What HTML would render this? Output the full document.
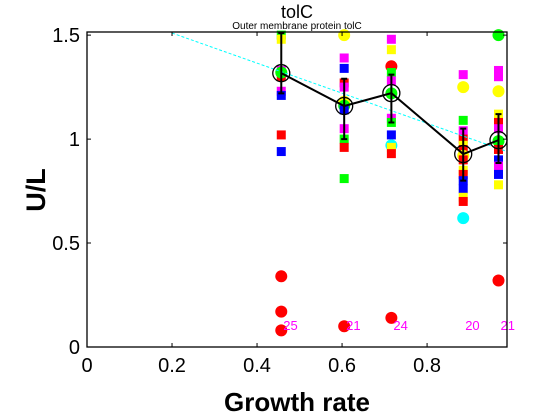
<!DOCTYPE html>
<html><head><meta charset="utf-8"><style>
body{margin:0;background:#fff;}
svg{display:block;font-family:"Liberation Sans",sans-serif;}
</style></head><body>
<svg id="chart" width="560" height="420" viewBox="0 0 560 420">
<rect x="0" y="0" width="560" height="420" fill="#fff"/>
<text x="297" y="18" font-size="18" text-anchor="middle">tolC</text>
<text x="297" y="29" font-size="10" text-anchor="middle">Outer membrane protein tolC</text>
<text transform="translate(45,190) rotate(-90)" font-size="27" font-weight="bold" text-anchor="middle">U/L</text>
<text x="297" y="411" font-size="26" font-weight="bold" text-anchor="middle">Growth rate</text>
<g id="plot"></g>
</svg>
<script>
const xTicks=[0,0.2,0.4,0.6,0.8];
const xTickLabels=["0","0.2","0.4","0.6","0.8"];
const yTicks=[0,0.5,1,1.5];
const yTickLabels=["0","0.5","1","1.5"];
const groupX=[0.457,0.605,0.716,0.885,0.968];
const meanY=[1.317,1.159,1.221,0.928,0.995];
const errLow=[1.22,1.0,1.08,0.80,0.885];
const errHigh=[1.51,1.29,1.31,1.05,1.12];
const counts=["25","21","24","20","21"];
const trendX=[0.2,0.988];
const trendY=[1.51,0.94];
const pointGroup=[0,0,0,0,0,0,0,0,0,0,0,0, 1,1,1,1,1,1,1,1,1,1,1,1,1, 2,2,2,2,2,2,2,2,2,2,2,2,2, 3,3,3,3,3,3,3,3,3,3,3,3,3,3,3,3, 4,4,4,4,4,4,4,4,4,4,4,4,4,4];
const pointValue=[1.5,1.48,1.33,1.30,1.32,1.23,1.21,1.02,0.94,0.34,0.17,0.08,
 1.5,1.39,1.34,1.27,1.25,1.18,1.16,1.14,1.05,1.0,0.96,0.81,0.10,
 1.48,1.43,1.35,1.32,1.28,1.22,1.10,1.08,1.02,0.97,0.96,0.93,0.14,
 1.31,1.25,1.09,1.04,1.0,0.97,0.95,0.92,0.90,0.85,0.83,0.80,0.76,0.72,0.70,0.62,
 1.5,1.33,1.30,1.23,1.12,1.08,1.05,0.99,0.95,0.90,0.87,0.83,0.78,0.32];
const pointColor=["#0f0","#ff0","#f0f","#f00","#0f0","#f0f","#00f","#f00","#00f","#f00","#f00","#f00",
 "#ff0","#f0f","#00f","#f00","#f0f","#ff0","#0f0","#00f","#f0f","#0f0","#f00","#0f0","#f00",
 "#f0f","#ff0","#f00","#0f0","#f0f","#0f0","#f0f","#0f0","#00f","#0ff","#ff0","#f00","#f00",
 "#f0f","#ff0","#0f0","#f0f","#f00","#ff0","#f00","#ff0","#f00","#ff0","#f00","#00f","#00f","#ff0","#f00","#0ff",
 "#0f0","#f0f","#f0f","#ff0","#ff0","#f00","#f0f","#0f0","#f00","#00f","#f0f","#00f","#ff0","#f00"];
const pointShape=["s","s","s","s","c","s","s","s","s","c","c","c",
 "c","s","s","s","s","c","c","s","s","s","s","s","c",
 "s","s","c","s","s","c","s","s","s","c","s","s","c",
 "s","c","s","s","s","s","s","c","s","s","s","s","s","s","s","c",
 "c","s","s","c","s","s","s","c","s","s","s","s","s","c"];

const L=87,R=507,T=32,B=347,XMAX=0.988,YMAX=1.515;
const sx=v=>L+v/XMAX*(R-L);
const sy=v=>B-v/YMAX*(B-T);
const g=document.getElementById('plot');
const NS="http://www.w3.org/2000/svg";
function mk(tag,attrs){const e=document.createElementNS(NS,tag);for(const k in attrs)e.setAttribute(k,attrs[k]);g.appendChild(e);return e;}

for(let i=0;i<pointValue.length;i++){
  const x=sx(groupX[pointGroup[i]]),y=sy(pointValue[i]);
  let e;
  if(pointShape[i]==="s") e=mk('rect',{x:x-4.5,y:y-4.5,width:9,height:9,fill:pointColor[i]});
  else e=mk('circle',{cx:x,cy:y,r:6,fill:pointColor[i]});
  
  
}
const tl=mk('line',{x1:sx(trendX[0]),y1:sy(trendY[0]),x2:sx(trendX[1]),y2:sy(trendY[1]),stroke:"#0ff","stroke-width":1,"stroke-dasharray":"3,2"});


const ml=mk('polyline',{points:groupX.map((x,i)=>sx(x)+","+sy(meanY[i])).join(" "),fill:"none",stroke:"#000","stroke-width":2});


for(let i=0;i<groupX.length;i++){
  const x=sx(groupX[i]);
  const eb=mk('path',{d:`M${x},${sy(errHigh[i])}V${sy(errLow[i])}M${x-3},${sy(errHigh[i])}H${x+3}M${x-3},${sy(errLow[i])}H${x+3}`,stroke:"#000","stroke-width":2,fill:"none"});
  
  
  const mc=mk('circle',{cx:x,cy:sy(meanY[i]),r:8.5,fill:"none",stroke:"#000","stroke-width":1.3});
  
  
  const ct=mk('text',{x:x+2,y:sy(0.105)+5,"font-size":13,fill:"#f0f"});
  ct.textContent=counts[i];
  
  
}
const box=mk('rect',{x:L,y:T,width:R-L,height:B-T,fill:"none",stroke:"#000","stroke-width":1.3});


xTicks.forEach((v,i)=>{
  const x=sx(v);
  const t=mk('path',{d:`M${x},${B}v-4M${x},${T}v4`,stroke:"#000","stroke-width":1});
  
  
  const lb=mk('text',{x:x,y:B+25,"font-size":20,"text-anchor":"middle"});
  lb.textContent=xTickLabels[i];
  
  
});
yTicks.forEach((v,i)=>{
  const y=sy(v);
  const t=mk('path',{d:`M${L},${y}h4M${R},${y}h-4`,stroke:"#000","stroke-width":1});
  
  
  const lb=mk('text',{x:L-7,y:y+7,"font-size":20,"text-anchor":"end"});
  lb.textContent=yTickLabels[i];
  
  
});
</script>
</body></html>
